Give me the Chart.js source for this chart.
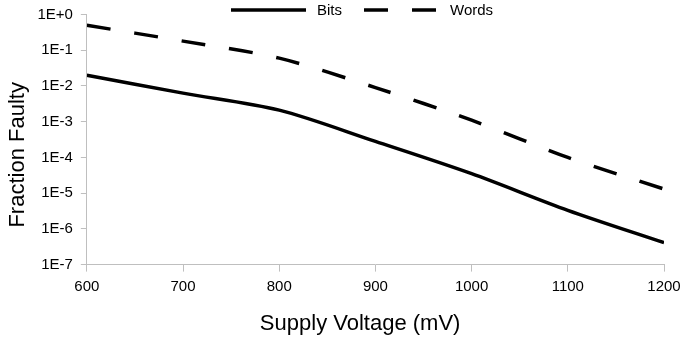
<!DOCTYPE html>
<html>
<head>
<meta charset="utf-8">
<title>Fraction Faulty vs Supply Voltage</title>
<script src="https://cdn.jsdelivr.net/npm/chart.js@4/dist/chart.umd.min.js"></script>
<style>
  html, body { margin: 0; padding: 0; background: #fff; }
  #wrap { width: 683px; height: 339px; }
</style>
</head>
<body>
<div id="wrap"><canvas id="faultChart" width="683" height="339"></canvas></div>
<script>
const voltages = [600, 700, 800, 900, 1000, 1100, 1200];
const bitsFaulty = [2.0e-2, 6.3e-3, 2.1e-3, 2.8e-4, 3.5e-5, 3.3e-6, 4.1e-7];
const wordsFaulty = [5.0e-1, 1.8e-1, 6.0e-2, 9.0e-3, 1.1e-3, 1.0e-4, 1.3e-5];
const seriesNames = ['Bits', 'Words'];
const xTickValues = [600, 700, 800, 900, 1000, 1100, 1200];
const yTickValues = [1e-7, 1e-6, 1e-5, 1e-4, 1e-3, 1e-2, 1e-1, 1e0];
const yTickLabels = ['1E-7', '1E-6', '1E-5', '1E-4', '1E-3', '1E-2', '1E-1', '1E+0'];

const FONT = '"Liberation Sans", Arial, sans-serif';
const AXIS_GREY = '#bfbfbf';

function toPoints(values) {
  return voltages.map((v, i) => ({ x: v, y: values[i] }));
}

// legend sits above the plot, overlapping the top margin like the original
const topLegend = {
  id: 'topLegend',
  afterDraw(chart, args, opts) {
    const { ctx } = chart;
    ctx.save();
    ctx.font = `${opts.fontSize}px ${FONT}`;
    ctx.textBaseline = 'middle';
    ctx.fillStyle = '#000';
    let x = opts.left;
    chart.data.datasets.forEach((ds) => {
      ctx.beginPath();
      ctx.setLineDash(ds.borderDash || []);
      ctx.lineWidth = ds.borderWidth;
      ctx.strokeStyle = ds.borderColor;
      ctx.lineCap = 'butt';
      ctx.moveTo(x, opts.y);
      ctx.lineTo(x + opts.lineLength, opts.y);
      ctx.stroke();
      x += opts.lineLength + opts.textGap;
      ctx.setLineDash([]);
      ctx.fillText(ds.label, x, opts.y + 1);
      x += ctx.measureText(ds.label).width + opts.itemGap;
    });
    ctx.restore();
  },
};

new Chart(document.getElementById('faultChart'), {
  type: 'line',
  data: {
    datasets: [
      {
        label: seriesNames[0],
        data: toPoints(bitsFaulty),
        borderColor: '#000',
        borderWidth: 3.5,
        pointRadius: 0,
        tension: 0.3,
        fill: false,
      },
      {
        label: seriesNames[1],
        data: toPoints(wordsFaulty),
        borderColor: '#000',
        borderWidth: 3.5,
        borderDash: [24, 24],
        pointRadius: 0,
        tension: 0.3,
        fill: false,
      },
    ],
  },
  options: {
    responsive: false,
    animation: false,
    layout: { padding: { left: 5, right: 19, top: 14.5, bottom: 2 } },
    plugins: {
      legend: { display: false },
      tooltip: { enabled: false },
      topLegend: { left: 231, y: 10, lineLength: 75, textGap: 11, itemGap: 22, fontSize: 15 },
    },
    scales: {
      x: {
        type: 'linear',
        min: 600,
        max: 1200,
        afterBuildTicks(axis) {
          axis.ticks = xTickValues.map((v) => ({ value: v }));
        },
        // the last label may hang past the plot edge, as in the original
        afterFit(axis) {
          axis.paddingRight = 0;
        },
        ticks: {
          callback: (value) => String(value),
          color: '#000',
          font: { family: FONT, size: 15 },
          padding: 6,
          maxRotation: 0,
        },
        grid: { drawOnChartArea: false, tickLength: 7, color: AXIS_GREY },
        border: { color: AXIS_GREY },
        title: {
          display: true,
          text: 'Supply Voltage (mV)     ',
          color: '#000',
          font: { family: FONT, size: 22 },
          padding: { top: 9, bottom: 0 },
        },
      },
      y: {
        type: 'logarithmic',
        min: 1e-7,
        max: 1,
        afterBuildTicks(axis) {
          axis.ticks = yTickValues.map((v) => ({ value: v }));
        },
        afterFit(axis) {
          axis.paddingTop = 0;
        },
        ticks: {
          callback: (value, index) => yTickLabels[index],
          color: '#000',
          font: { family: FONT, size: 15 },
          padding: 8,
        },
        grid: { drawOnChartArea: false, tickLength: 6, color: AXIS_GREY },
        border: { color: AXIS_GREY },
        title: {
          display: true,
          text: 'Fraction Faulty     ',
          color: '#000',
          font: { family: FONT, size: 22 },
          padding: { top: 0, bottom: -2 },
        },
      },
    },
  },
  plugins: [topLegend],
});
</script>
</body>
</html>
